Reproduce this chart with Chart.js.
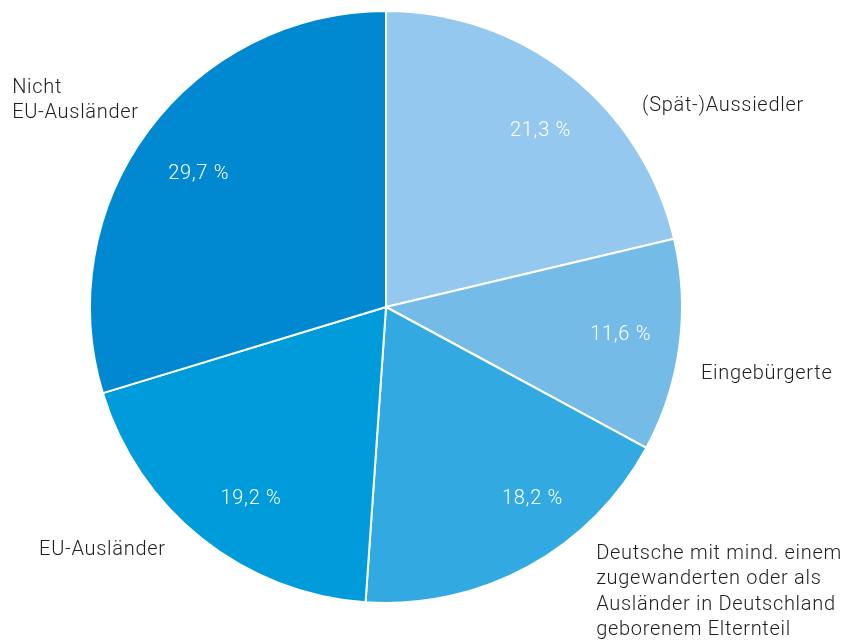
<!DOCTYPE html>
<html>
<head>
<meta charset="utf-8">
<script src="https://cdn.jsdelivr.net/npm/chart.js@4"></script>
<style>
html,body{margin:0;padding:0;background:#fff;}
#wrap{width:853px;height:640px;position:relative;}
</style>
</head>
<body>
<div id="wrap"><canvas id="c" width="853" height="640"></canvas></div>
<script>
const categories = ["(Spät-)Aussiedler", "Eingebürgerte", "Deutsche mit mind. einem\nzugewanderten oder als\nAusländer in Deutschland\ngeborenem Elternteil", "EU-Ausländer", "Nicht\nEU-Ausländer"];
const values = [21.3, 11.6, 18.2, 19.2, 29.7];
const valueLabels = ["21,3 %", "11,6 %", "18,2 %", "19,2 %", "29,7 %"];
const colors = ["#95c8ee", "#74bbe8", "#33a9e1", "#009bdb", "#0088d1"];

// label anchors, as fractions of radius relative to pie centre (x, y)
const innerAnchors = [[0.522, -0.593], [0.793, 0.094], [0.495, 0.65], [-0.456, 0.648], [-0.633, -0.451]];
const outerAnchors = [[0.865, -0.68], [1.064, 0.226], [0.71, 0.835], [-1.172, 0.822], [-1.263, -0.741]];

const FONT = "300 20px Roboto, 'Liberation Sans', sans-serif";

const labelPlugin = {
  id: 'labels',
  afterDatasetsDraw(chart) {
    const ctx = chart.ctx;
    const meta = chart.getDatasetMeta(0);
    ctx.save();
    ctx.font = FONT;
    ctx.letterSpacing = '0.7px';
    meta.data.forEach((arc, i) => {
      const p = arc.getProps(['x','y','outerRadius'], true);
      const R = p.outerRadius;
      ctx.fillStyle = '#ffffff';
      ctx.textAlign = 'center';
      ctx.textBaseline = 'middle';
      const ia = innerAnchors[i];
      ctx.fillText(valueLabels[i], p.x + ia[0] * R, p.y + ia[1] * R);
      const a = outerAnchors[i];
      const lx = p.x + a[0] * R;
      const ly = p.y + a[1] * R;
      ctx.fillStyle = '#1e1e1e';
      ctx.textAlign = 'left';
      categories[i].split('\n').forEach((line, k) => {
        ctx.fillText(line, lx, ly + k * 25.2);
      });
    });
    ctx.restore();
  }
};

new Chart(document.getElementById('c'), {
  type: 'pie',
  data: {
    labels: categories,
    datasets: [{
      data: values,
      backgroundColor: colors,
      borderColor: '#ffffff',
      borderWidth: 2
    }]
  },
  options: {
    responsive: false,
    animation: false,
    layout: { padding: { left: 89, right: 170, top: 10, bottom: 36 } },
    plugins: { legend: { display: false }, tooltip: { enabled: false } }
  },
  plugins: [labelPlugin]
});
</script>
</body>
</html>
